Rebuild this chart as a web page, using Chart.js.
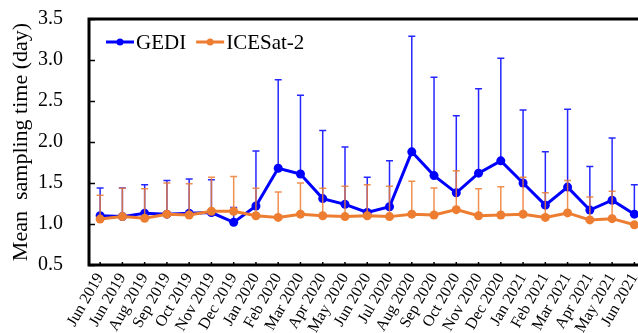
<!DOCTYPE html>
<html>
<head>
<meta charset="utf-8">
<script src="https://cdn.jsdelivr.net/npm/chart.js@4"></script>
<style>
  html, body { margin: 0; padding: 0; background: #fff; overflow: hidden; }
  canvas { display: block; }
</style>
</head>
<body>
<canvas id="myChart" width="650" height="333"></canvas>
<script>
const months = [
    'Jun 2019', 'Jun 2019', 'Aug 2019', 'Sep 2019', 'Oct 2019', 'Nov 2019', 'Dec 2019',
    'Jan 2020', 'Feb 2020', 'Mar 2020', 'Apr 2020', 'May 2020', 'Jun 2020', 'Jul 2020',
    'Aug 2020', 'Sep 2020', 'Oct 2020', 'Nov 2020', 'Dec 2020', 'Jan 2021', 'Feb 2021',
    'Mar 2021', 'Apr 2021', 'May 2021', 'Jun 2021',
];

// mean sampling time (day)
const gediMean = [1.10, 1.09, 1.13, 1.12, 1.13, 1.14, 1.02, 1.22, 1.68, 1.61, 1.31, 1.24, 1.14,
    1.21, 1.88, 1.59, 1.38, 1.62, 1.77, 1.50, 1.23, 1.45, 1.17, 1.29, 1.12];
const icesatMean = [1.06, 1.09, 1.07, 1.12, 1.11, 1.155, 1.155, 1.10, 1.08, 1.12, 1.10, 1.09, 1.10,
    1.09, 1.12, 1.11, 1.175, 1.10, 1.11, 1.12, 1.08, 1.135, 1.05, 1.065, 0.99];

// standard deviation (upper error bars only)
const gediSd = [0.34, 0.35, 0.35, 0.41, 0.42, 0.40, 0.18, 0.67, 1.08, 0.96, 0.83, 0.70, 0.43,
    0.56, 1.41, 1.20, 0.94, 1.03, 1.25, 0.89, 0.65, 0.95, 0.53, 0.76, 0.36];
const icesatSd = [0.29, 0.345, 0.36, 0.38, 0.38, 0.415, 0.425, 0.335, 0.31, 0.38, 0.335, 0.37, 0.38,
    0.37, 0.40, 0.33, 0.475, 0.33, 0.345, 0.45, 0.30, 0.395, 0.28, 0.335, 0];

const yTicks = [0.5, 1.0, 1.5, 2.0, 2.5, 3.0, 3.5];

const serif = "'Liberation Serif', 'Times New Roman', serif";
const blue = '#0000ff';
const orange = '#ed7d31';

// draws the error bars of a dataset just before the dataset itself
const errorBars = {
    id: 'errorBars',
    beforeDatasetDraw(chart, args) {
        const ds = chart.data.datasets[args.index];
        const yScale = chart.scales.y;
        const ctx = chart.ctx;
        ctx.save();
        ctx.strokeStyle = ds.errorColor;
        ctx.lineWidth = 1.5;
        args.meta.data.forEach((pt, i) => {
            const sd = ds.sd[i];
            if (!sd) return;
            const top = yScale.getPixelForValue(ds.data[i] + sd);
            ctx.beginPath();
            ctx.moveTo(pt.x, pt.y);
            ctx.lineTo(pt.x, top);
            ctx.moveTo(pt.x - 3.5, top);
            ctx.lineTo(pt.x + 3.5, top);
            ctx.stroke();
        });
        ctx.restore();
    }
};

// box round the plot, inward tick marks and the legend inside it
const frame = {
    id: 'frame',
    afterDraw(chart) {
        const ctx = chart.ctx;
        const a = chart.chartArea;
        const xs = chart.scales.x;
        const ys = chart.scales.y;
        ctx.save();
        ctx.strokeStyle = '#000';
        ctx.lineWidth = 1.5;
        ctx.beginPath();
        yTicks.forEach((v) => {
            const py = Math.round(ys.getPixelForValue(v)) + 0.5;
            ctx.moveTo(a.left, py);
            ctx.lineTo(a.left + 6, py);
        });
        months.forEach((m, i) => {
            const px = xs.getPixelForTick(i);
            ctx.moveTo(px, a.bottom);
            ctx.lineTo(px, a.bottom - 3);
        });
        ctx.stroke();

        ctx.lineWidth = 3;
        ctx.strokeRect(a.left, a.top, a.right - a.left, a.bottom - a.top);

        let x = a.left + 17;
        const y = a.top + 23;
        ctx.font = '21px ' + serif;
        ctx.textBaseline = 'middle';
        ctx.textAlign = 'left';
        chart.data.datasets.forEach((ds) => {
            ctx.strokeStyle = ds.borderColor;
            ctx.fillStyle = ds.borderColor;
            ctx.lineWidth = 3;
            ctx.beginPath();
            ctx.moveTo(x, y);
            ctx.lineTo(x + 28, y);
            ctx.stroke();
            ctx.beginPath();
            ctx.arc(x + 14, y, 3.5, 0, Math.PI * 2);
            ctx.fill();
            ctx.fillStyle = '#000';
            ctx.fillText(ds.label, x + 30, y + 1);
            x += 30 + ctx.measureText(ds.label).width + 10;
        });
        ctx.restore();
    }
};

const data = {
    labels: months,
    datasets: [{
        label: 'GEDI',
        data: gediMean,
        sd: gediSd,
        errorColor: 'rgba(0, 0, 255, 0.85)',
        borderColor: blue,
        backgroundColor: blue,
        borderWidth: 3,
        pointRadius: 4.5,
        pointBorderWidth: 0,
        order: 1,
    }, {
        label: 'ICESat-2',
        data: icesatMean,
        sd: icesatSd,
        errorColor: 'rgba(237, 125, 49, 0.85)',
        borderColor: orange,
        backgroundColor: orange,
        borderWidth: 3,
        pointRadius: 4.5,
        pointBorderWidth: 0,
        order: 0,
    }]
};

const config = {
    type: 'line',
    data: data,
    options: {
        responsive: false,
        animation: false,
        devicePixelRatio: 1,
        layout: { padding: { top: 19, right: 4, left: 0, bottom: 0 } },
        plugins: {
            legend: { display: false },
            tooltip: { enabled: false },
        },
        scales: {
            x: {
                offset: true,
                border: { display: false },
                grid: { drawOnChartArea: false, drawTicks: false },
                ticks: {
                    color: '#000',
                    font: { family: serif, size: 16 },
                    minRotation: 60,
                    maxRotation: 60,
                    autoSkip: false,
                    padding: 5,
                },
                afterFit: (scale) => {
                    scale.height = 68;
                    scale.paddingLeft = 0;
                    scale.paddingRight = 0;
                },
            },
            y: {
                min: 0.5,
                max: 3.5,
                border: { display: false },
                grid: { drawOnChartArea: false, drawTicks: false },
                afterBuildTicks: (scale) => { scale.ticks = yTicks.map(v => ({ value: v })); },
                ticks: {
                    color: '#000',
                    font: { family: serif, size: 20 },
                    padding: 26,
                    callback: (v) => Number(v).toFixed(1),
                },
                title: {
                    display: true,
                    text: 'Mean  sampling time (day)',
                    color: '#000',
                    font: { family: serif, size: 22 },
                    padding: { top: 8, bottom: 0 },
                },
                afterFit: (scale) => {
                    scale.width = 89;
                    scale.paddingTop = 0;
                    scale.paddingBottom = 0;
                },
            }
        }
    },
    plugins: [errorBars, frame]
};

const myChart = new Chart(
    document.getElementById('myChart'),
    config
);
</script>
</body>
</html>
